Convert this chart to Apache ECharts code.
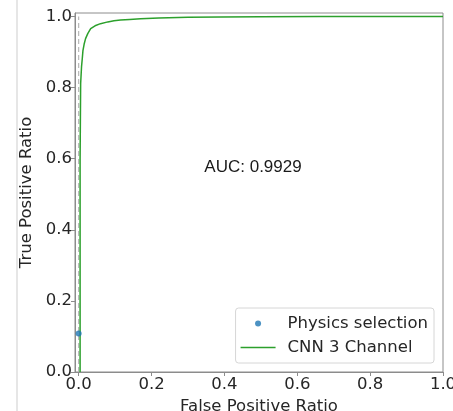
<!DOCTYPE html>
<html>
<head>
<meta charset="utf-8">
<script src="https://cdn.jsdelivr.net/npm/echarts@6/dist/echarts.min.js"></script>
<style>html,body{margin:0;padding:0;background:#fff;}#c{width:453px;height:411px;}</style>
</head>
<body>
<div id="c"></div>
<script>
// ROC curve (CNN 3 Channel)
const rocFpr = [0.004, 0.004, 0.0055, 0.008, 0.010, 0.0118, 0.015, 0.019, 0.025, 0.033, 0.045, 0.060, 0.080, 0.097, 0.115, 0.140, 0.170, 0.220, 0.300, 0.389, 0.500, 0.660, 0.800, 1.0];
const rocTpr = [0, 0.60, 0.811, 0.860, 0.882, 0.904, 0.922, 0.938, 0.952, 0.966, 0.974, 0.980, 0.985, 0.988, 0.990, 0.992, 0.994, 0.996, 0.998, 0.999, 0.9995, 1.0, 1.0, 1.0];
// Physics selection point
const physFpr = [0.0];
const physTpr = [0.108];
// Reference dashed line
const refX = [0, 0];
const refY = [0, 1];
const tickValues = [0, 0.2, 0.4, 0.6, 0.8, 1.0];
const aucText = 'AUC: 0.9929';

const zip = (a, b) => a.map((v, i) => [v, b[i]]);
const chart = echarts.init(document.getElementById('c'), null, {renderer: 'canvas'});
const FONT = 'DejaVu Sans';
const FS = 16.5;
const axisColor = '#8c8c8c';
const labelColor = '#262626';

chart.setOption({
  animation: false,
  backgroundColor: '#fff',
  grid: {left: 75, right: 10, top: 13, bottom: 39, show: true, borderColor: axisColor, borderWidth: 1, containLabel: false, outerBoundsMode: 'none'},
  xAxis: {
    type: 'value', min: -0.01, max: 1.0,
    name: 'False Positive Ratio', nameLocation: 'middle', nameGap: 19,
    nameTextStyle: {fontFamily: FONT, fontSize: FS, color: labelColor},
    axisLine: {show: true, onZero: false, lineStyle: {color: axisColor}},
    axisTick: {show: true, customValues: tickValues, length: 4, lineStyle: {color: axisColor}},
    axisLabel: {customValues: tickValues, formatter: v => v.toFixed(1), fontFamily: FONT, fontSize: FS, color: labelColor, margin: 4},
    splitLine: {show: false}
  },
  yAxis: {
    type: 'value', min: 0, max: 1.01,
    name: 'True Positive Ratio', nameLocation: 'middle', nameGap: 34,
    nameTextStyle: {fontFamily: FONT, fontSize: FS, color: labelColor},
    axisLine: {show: true, onZero: false, lineStyle: {color: axisColor}},
    axisTick: {show: true, customValues: tickValues, length: 4, lineStyle: {color: axisColor}},
    axisLabel: {customValues: tickValues, formatter: v => v.toFixed(1), fontFamily: FONT, fontSize: FS, color: labelColor, margin: 3},
    splitLine: {show: false}
  },
  legend: {
    data: [
      {name: 'Physics selection', icon: 'circle'},
      {name: 'CNN 3 Channel', icon: 'path://M0,0 L35,0 L35,1.5 L0,1.5 Z'}
    ],
    orient: 'vertical', right: 19, bottom: 48,
    itemWidth: 35, itemHeight: 6, itemGap: 7,
    symbolKeepAspect: true,
    padding: [7, 6, 7, 5],
    borderColor: '#d6d6d6', borderWidth: 1, borderRadius: 3,
    backgroundColor: '#fff',
    textStyle: {fontFamily: FONT, fontSize: FS, lineHeight: 17, color: labelColor, padding: [0, 0, 0, 7]}
  },
  series: [
    {
      name: 'reference', type: 'line', data: zip(refX, refY), showSymbol: false,
      lineStyle: {color: '#b8b8b8', type: [5, 3], width: 1.2}, z: 1, silent: true
    },
    {
      name: 'CNN 3 Channel', type: 'line', data: zip(rocFpr, rocTpr), showSymbol: false, symbol: 'none',
      lineStyle: {color: '#2ca02c', width: 1.5}, itemStyle: {color: '#2ca02c'}, z: 2
    },
    {
      name: 'Physics selection', type: 'scatter', data: zip(physFpr, physTpr), symbolSize: 6,
      itemStyle: {color: '#1f77b4'}, z: 3
    }
  ],
  graphic: [
    {type: 'line', shape: {x1: 17, y1: 0, x2: 17, y2: 411}, style: {stroke: '#dedede', lineWidth: 1.5}, silent: true},
    {type: 'text', x: 253, y: 167, style: {text: aucText, fontFamily: 'Liberation Sans', fontSize: 17, fill: '#1a1a1a', align: 'center', verticalAlign: 'middle'}}
  ]
});
</script>
</body>
</html>
